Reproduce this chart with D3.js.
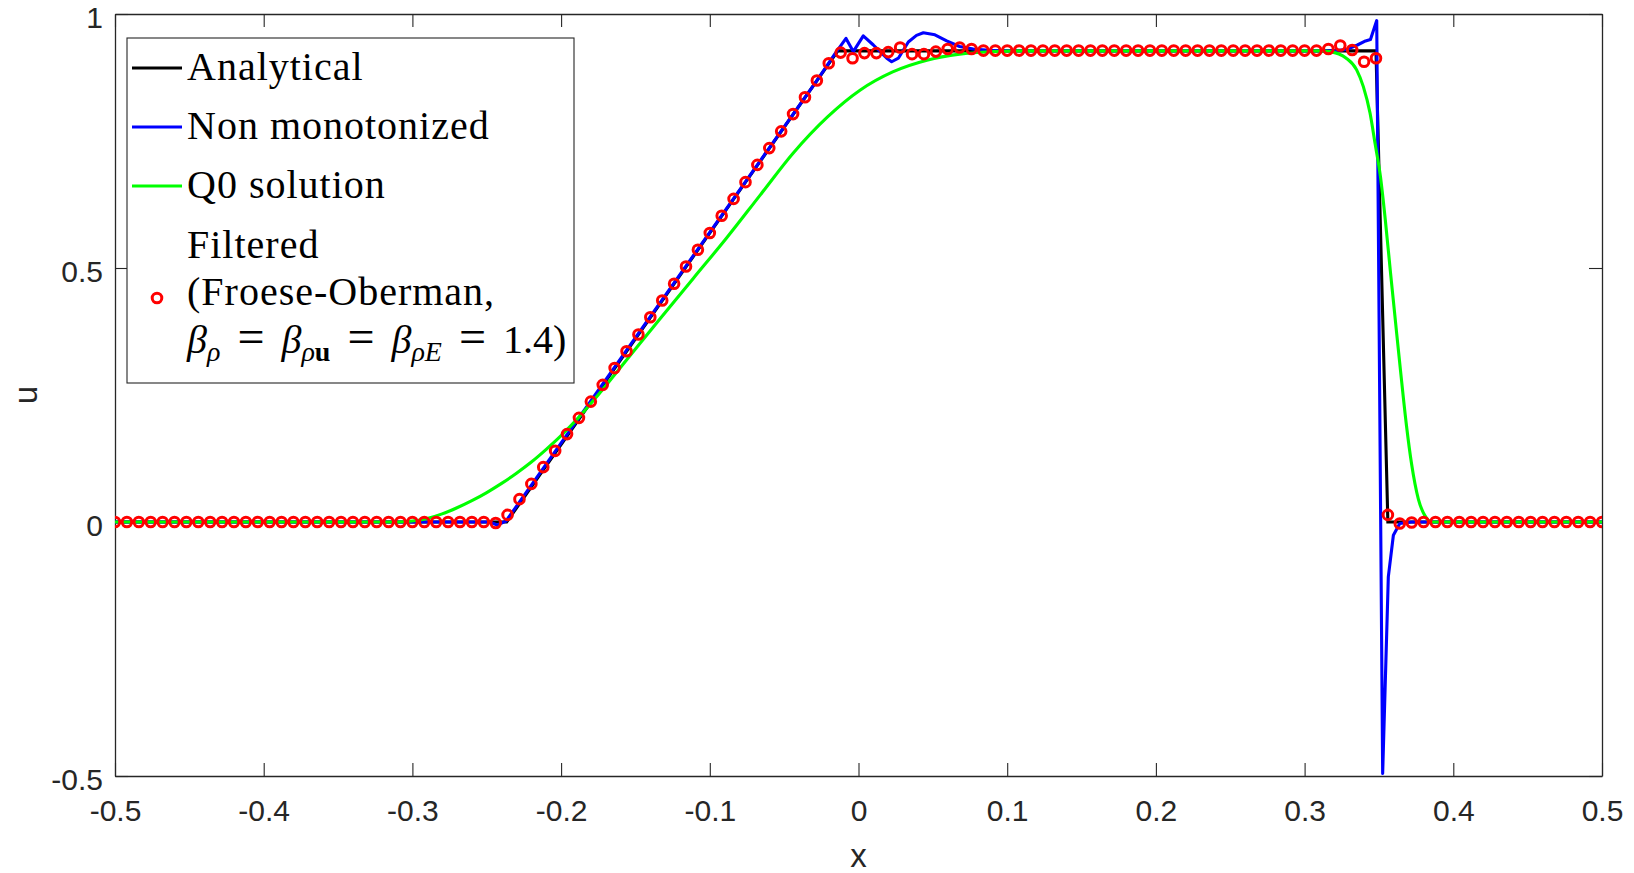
<!DOCTYPE html>
<html>
<head>
<meta charset="utf-8">
<script src="https://cdn.jsdelivr.net/npm/d3@7"></script>
<style>
  body { margin: 0; background: #fff; }
  svg { display: block; }
</style>
</head>
<body>
<div id="chart"></div>
<script>
// ---- data (Sod tube, velocity u at t = 0.2) ----

// analytical solution, break points
const analyticalX = [-0.5, -0.2366, -0.0139, 0.348, 0.356, 0.5];
const analyticalU = [0, 0, 0.9275, 0.9275, 0, 0];

// non monotonized solution
const nonMonoX = [-0.5, -0.248, -0.243, -0.237, -0.028, -0.016, -0.0084, -0.0035, 0.0032, 0.010,
  0.019, 0.0223, 0.0268, 0.0335, 0.039, 0.0436, 0.0514, 0.0593, 0.068, 0.0772, 0.09,
  0.32, 0.328, 0.3355, 0.341, 0.3443, 0.3485, 0.3525, 0.3563, 0.3597, 0.364, 0.372, 0.5];
const nonMonoU = [0, 0, -0.006, 0.002, 0.869, 0.921, 0.952, 0.926, 0.957, 0.939,
  0.913, 0.906, 0.913, 0.945, 0.958, 0.963, 0.959, 0.947, 0.936, 0.931, 0.928,
  0.9275, 0.930, 0.939, 0.947, 0.950, 0.987, -0.495, -0.108, -0.026, -0.003, 0, 0];

// Q0 solution
const q0X = [-0.5, -0.31, -0.30, -0.29, -0.28, -0.27, -0.26, -0.25, -0.24, -0.23, -0.22,
  -0.21, -0.20, -0.19, -0.178, -0.156, -0.134, -0.111, -0.089, -0.066, -0.044, -0.021,
  0.001, 0.023, 0.046, 0.068, 0.091, 0.11, 0.31, 0.317, 0.328, 0.335, 0.3395, 0.344,
  0.3474, 0.351, 0.3543, 0.3578, 0.3612, 0.3645, 0.3685, 0.3719, 0.3765, 0.381, 0.3853, 0.5];
const q0U = [0, 0, 0.002, 0.007, 0.016, 0.028, 0.042, 0.058, 0.076, 0.096, 0.118,
  0.143, 0.170, 0.200, 0.240, 0.319, 0.398, 0.480, 0.558, 0.644, 0.726, 0.797,
  0.850, 0.886, 0.909, 0.921, 0.926, 0.9275, 0.9275, 0.926, 0.913, 0.890, 0.857, 0.805,
  0.745, 0.680, 0.594, 0.490, 0.392, 0.298, 0.19, 0.115, 0.045, 0.012, 0, 0];

// filtered solution, one value per node, nodes every 0.008 from -0.5
const filteredStart = -0.5, filteredStep = 0.008;
const filteredU = [
  0, 0, 0, 0, 0, 0, 0, 0, 0, 0,
  0, 0, 0, 0, 0, 0, 0, 0, 0, 0,
  0, 0, 0, 0, 0, 0, 0, 0, 0, 0,
  0, 0, -0.002, 0.014, 0.045, 0.075, 0.108, 0.140, 0.173, 0.205,
  0.237, 0.270, 0.303, 0.336, 0.369, 0.403, 0.436, 0.469, 0.503, 0.536,
  0.569, 0.603, 0.636, 0.669, 0.703, 0.736, 0.769, 0.803, 0.836, 0.869,
  0.903, 0.924, 0.913, 0.923, 0.923, 0.925, 0.934, 0.921, 0.921, 0.926,
  0.931, 0.934, 0.931, 0.928, 0.928, 0.928, 0.928, 0.928, 0.928, 0.928,
  0.928, 0.928, 0.928, 0.928, 0.928, 0.928, 0.928, 0.928, 0.928, 0.928,
  0.928, 0.928, 0.928, 0.928, 0.928, 0.928, 0.928, 0.928, 0.928, 0.928,
  0.928, 0.928, 0.931, 0.938, 0.929, 0.906, 0.913, 0.014, -0.003, -0.001,
  0, 0, 0, 0, 0, 0, 0, 0, 0, 0,
  0, 0, 0, 0, 0, 0
];

const xTicks = [-0.5, -0.4, -0.3, -0.2, -0.1, 0, 0.1, 0.2, 0.3, 0.4, 0.5];
const yTicks = [-0.5, 0, 0.5, 1];

const legendNames = ["Analytical", "Non monotonized", "Q0 solution"];
const filteredLabel = ["Filtered", "(Froese-Oberman,"];

/////////////////////////////////////////////////////
const W = 1634, H = 873;
const margin = { left: 115, right: 32, top: 14, bottom: 97 };
const axisColor = "#262626";

const svg = d3.select("#chart").append("svg")
  .attr("width", W)
  .attr("height", H)
  .style("background", "#fff");

const x = d3.scaleLinear().domain([-0.5, 0.5]).range([margin.left, W - margin.right]);
const y = d3.scaleLinear().domain([-0.5, 1]).range([H - margin.bottom, margin.top]);

const fmt = d => String(+d.toFixed(1));

// axes: ticks point inward, labels only bottom / left
function styleAxis(g) {
  g.selectAll(".domain").attr("stroke", axisColor).attr("stroke-width", 1.3);
  g.selectAll(".tick line").attr("stroke", axisColor).attr("stroke-width", 1.1);
  g.selectAll(".tick text")
    .attr("fill", axisColor)
    .style("font-family", "'Liberation Sans', Arial, sans-serif")
    .style("font-size", "30px");
}

svg.append("g")
  .attr("transform", `translate(0,${H - margin.bottom})`)
  .call(d3.axisBottom(x).tickValues(xTicks).tickFormat(fmt).tickSizeInner(-13).tickSizeOuter(0).tickPadding(24))
  .call(styleAxis);

svg.append("g")
  .attr("transform", `translate(0,${margin.top})`)
  .call(d3.axisTop(x).tickValues(xTicks).tickFormat("").tickSizeInner(-13).tickSizeOuter(0))
  .call(styleAxis);

svg.append("g")
  .attr("transform", `translate(${margin.left},0)`)
  .call(d3.axisLeft(y).tickValues(yTicks).tickFormat(fmt).tickSizeInner(-13).tickSizeOuter(0).tickPadding(12))
  .call(styleAxis)
  .call(g => g.selectAll(".tick text").attr("dy", "0.45em"));

svg.append("g")
  .attr("transform", `translate(${W - margin.right},0)`)
  .call(d3.axisRight(y).tickValues(yTicks).tickFormat("").tickSizeInner(-13).tickSizeOuter(0))
  .call(styleAxis);

// axis labels
svg.append("text")
  .attr("x", (x.range()[0] + x.range()[1]) / 2)
  .attr("y", 867)
  .attr("text-anchor", "middle")
  .attr("fill", axisColor)
  .style("font-family", "'Liberation Sans', Arial, sans-serif")
  .style("font-size", "33px")
  .text("x");

svg.append("text")
  .attr("transform", `translate(37,${(y.range()[0] + y.range()[1]) / 2}) rotate(-90)`)
  .attr("text-anchor", "middle")
  .attr("fill", axisColor)
  .style("font-family", "'Liberation Sans', Arial, sans-serif")
  .style("font-size", "33px")
  .text("u");

// data lines
svg.append("clipPath").attr("id", "plotclip")
  .append("rect")
  .attr("x", margin.left).attr("y", margin.top)
  .attr("width", W - margin.left - margin.right)
  .attr("height", H - margin.top - margin.bottom);

const plot = svg.append("g").attr("clip-path", "url(#plotclip)");

const toPoints = (xs, us) => xs.map((v, i) => [v, us[i]]);
const line = d3.line().x(d => x(d[0])).y(d => y(d[1]));
const smoothLine = d3.line().x(d => x(d[0])).y(d => y(d[1])).curve(d3.curveMonotoneX);

plot.append("path")
  .datum(toPoints(analyticalX, analyticalU))
  .attr("d", line)
  .attr("fill", "none").attr("stroke", "#000").attr("stroke-width", 3.1);

plot.append("path")
  .datum(toPoints(nonMonoX, nonMonoU))
  .attr("d", line)
  .attr("fill", "none").attr("stroke", "#0000ff").attr("stroke-width", 3.1)
  .attr("stroke-linejoin", "round");

plot.append("path")
  .datum(toPoints(q0X, q0U))
  .attr("d", smoothLine)
  .attr("fill", "none").attr("stroke", "#00ff00").attr("stroke-width", 3.1);

plot.append("g")
  .selectAll("circle")
  .data(filteredU.map((u, k) => [filteredStart + k * filteredStep, u]))
  .join("circle")
  .attr("cx", d => x(d[0]))
  .attr("cy", d => y(d[1]))
  .attr("r", 4.8)
  .attr("fill", "none")
  .attr("stroke", "#ff0000")
  .attr("stroke-width", 3);

// legend
const lg = svg.append("g");
lg.append("rect")
  .attr("x", 127).attr("y", 38)
  .attr("width", 447).attr("height", 345)
  .attr("fill", "#fff")
  .attr("stroke", axisColor)
  .attr("stroke-width", 1.1);

const serif = "'Liberation Serif', 'Times New Roman', serif";
const lineColors = ["#000", "#0000ff", "#00ff00"];
const rowY = [68, 127, 186];

legendNames.forEach((name, i) => {
  lg.append("line")
    .attr("x1", 132).attr("x2", 182)
    .attr("y1", rowY[i]).attr("y2", rowY[i])
    .attr("stroke", lineColors[i]).attr("stroke-width", 2.8);
  lg.append("text")
    .attr("x", 187).attr("y", rowY[i] + 12)
    .style("font-family", serif).style("font-size", "40px")
    .style("letter-spacing", "1px")
    .text(name);
});

lg.append("circle")
  .attr("cx", 157).attr("cy", 298).attr("r", 4.8)
  .attr("fill", "none").attr("stroke", "#ff0000").attr("stroke-width", 3);

filteredLabel.forEach((t, i) => {
  lg.append("text")
    .attr("x", 187).attr("y", 258 + i * 47)
    .style("font-family", serif).style("font-size", "40px")
    .style("letter-spacing", "1px")
    .text(t);
});

// β_ρ = β_ρu = β_ρE = 1.4)
const mathT = lg.append("text")
  .attr("x", 187).attr("y", 353)
  .style("font-family", serif).style("font-size", "40px");

const gap = 17;
function betaSub(parts, lead) {
  mathT.append("tspan").attr("dx", lead).style("font-style", "italic").text("β");
  parts.forEach((s, j) => {
    const ts = mathT.append("tspan")
      .style("font-size", "28px")
      .style("font-style", s.bold ? "normal" : "italic")
      .style("font-weight", s.bold ? "bold" : "normal")
      .text(s.t);
    if (j === 0) ts.attr("dy", 8);
  });
  mathT.append("tspan").attr("dy", -8).attr("dx", gap).style("font-size", "48px").text("=");
}
betaSub([{ t: "ρ" }], 0);
betaSub([{ t: "ρ" }, { t: "u", bold: true }], gap);
betaSub([{ t: "ρE" }], gap);
mathT.append("tspan").attr("dx", gap).text("1.4)");
</script>
</body>
</html>
